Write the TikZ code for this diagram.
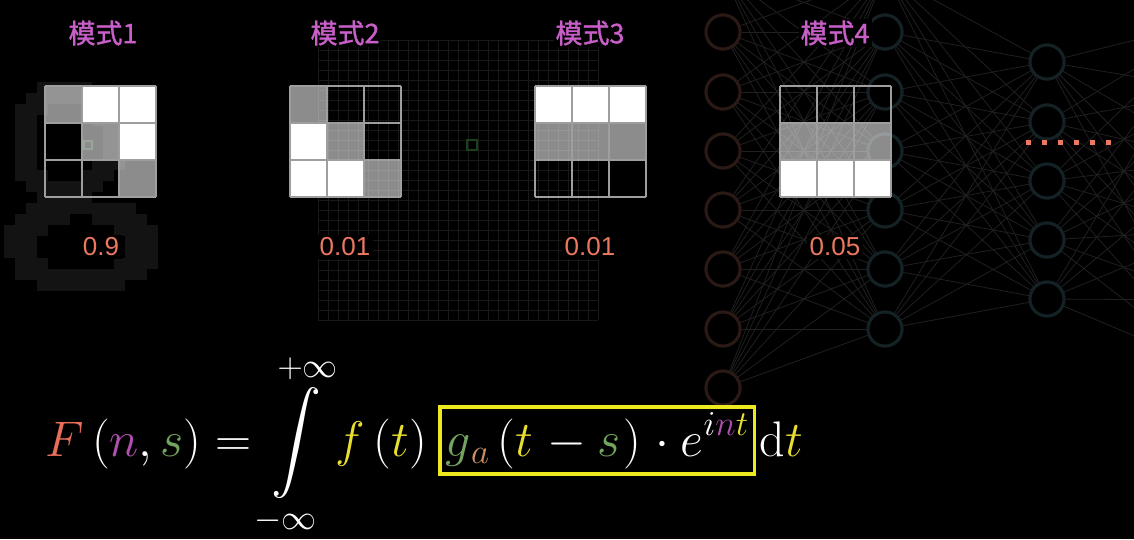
\RequirePackage{fix-cm}
\documentclass[tikz,border=0pt]{standalone}
\DeclareFontShape{OMX}{cmex}{m}{n}{<->cmex10}{}
\usepackage{fontspec}
\newfontfamily\cjk[FakeBold=1.2]{Noto Sans CJK SC}
\newfontfamily\numfont{Liberation Sans}
\usetikzlibrary{calc}
\definecolor{labpink}{RGB}{200,95,200}
\definecolor{numorange}{RGB}{235,120,95}
\definecolor{cF}{RGB}{232,110,90}
\definecolor{cn}{RGB}{175,80,175}
\definecolor{cs}{RGB}{115,165,95}
\definecolor{cy}{RGB}{232,222,50}
\definecolor{ca}{RGB}{205,145,100}
\definecolor{boxy}{RGB}{238,232,30}
\definecolor{netline}{RGB}{32,32,32}
\definecolor{nodebrown}{RGB}{42,25,20}
\definecolor{nodeteal}{RGB}{20,34,37}
\definecolor{faint}{RGB}{24,24,24}
\definecolor{eightgray}{RGB}{19,19,19}
\definecolor{dgreen}{RGB}{28,64,28}
\tikzset{
  lab/.style={text=labpink, font=\cjk\fontsize{27}{30}\selectfont, fill=black, inner sep=2pt},
  num/.style={text=numorange, font=\numfont\fontsize{26}{30}\selectfont, fill=black, inner sep=3pt},
  neuronA/.style={circle, draw=nodebrown, line width=3pt, fill=black, minimum size=34pt, inner sep=0},
  neuronB/.style={circle, draw=nodeteal, line width=3pt, fill=black, minimum size=34pt, inner sep=0},
  netedge/.style={draw=netline, line width=0.8pt},
  gridline/.style={draw=white!62!black, line width=1.6pt},
  wcell/.style={fill=white},
  gcell/.style={fill=white, fill opacity=0.55},
  bcell/.style={},
  faintgrid/.style={draw=faint, line width=0.8pt},
  formula/.style={text=white, font=\fontsize{50}{60}\selectfont},
}
\newcommand\patgrid[3]{%
  \foreach \c/\r/\v in {#3} {
    \path[\v] (#1+37*\c, #2+37*\r) rectangle ++(37,37);
  }
  \foreach \k in {0,1,2,3} {
    \draw[gridline] (#1+37*\k, #2) -- (#1+37*\k, #2+111);
    \draw[gridline] (#1, #2+37*\k) -- (#1+111, #2+37*\k);
  }
}
\begin{document}
\begin{tikzpicture}[x=1pt,y=-1pt]
\fill[black] (0,0) rectangle (1134,539);
\useasboundingbox (0,0) rectangle (1134,539);
\clip (0,0) rectangle (1134,539);

% faint background pixel digit "8"
\foreach \i in {0,...,13} {
  \foreach \j in {0,...,19} {
    \pgfmathsetmacro\px{4+11*\i}
    \pgfmathsetmacro\py{82+11*\j}
    \pgfmathtruncatemacro\on{ (abs(sqrt(((\px+5.5-82)/60)^2+((\py+5.5-245)/37)^2)-1)<0.3) || (abs(sqrt(((\px+5.5-68)/46)^2+((\py+5.5-142)/50)^2)-1)<0.25) ? 1 : 0}
    \ifnum\on=1 \fill[eightgray] (\px,\py) rectangle ++(11,11); \fi
  }
}
% faint pixel grid
\foreach \i in {0,...,28} {
  \draw[faintgrid] (318+10*\i,40) -- (318+10*\i,320);
  \draw[faintgrid] (318,40+10*\i) -- (598,40+10*\i);
}
\draw[dgreen, line width=2pt] (467,140) rectangle (477,150);
\draw[dgreen, line width=1.5pt] (84,141) rectangle (92,149);

% neural network
\foreach \n/\y in {0/-27,1/32,2/92,3/151,4/210,5/269,6/329,7/388} \node[neuronA] (a\n) at (723,\y) {};
\foreach \n/\y in {0/-27,1/32,2/92,3/151,4/210,5/269,6/329} \node[neuronB] (b\n) at (885,\y) {};
\foreach \n/\y in {1/62,2/122,3/181,4/240,5/299} \node[neuronB] (c\n) at (1047,\y) {};
\foreach \n/\y in {1/20,2/90,3/160,4/230,5/300,6/370} \coordinate (d\n) at (1215,\y);
\foreach \i in {0,...,7} \foreach \j in {0,...,6} \path[netedge] (a\i) -- (b\j);
\foreach \i in {0,...,6} \foreach \j in {1,...,5} \path[netedge] (b\i) -- (c\j);
\foreach \i in {1,...,5} \foreach \j in {1,...,6} \path[netedge] (c\i) -- (d\j);
\foreach \n in {0,...,7} \node[neuronA] at (a\n) {};
\foreach \n in {0,...,6} \node[neuronB] at (b\n) {};
\foreach \n in {1,...,5} \node[neuronB] at (c\n) {};
\draw[numorange, line width=5pt, dash pattern=on 5pt off 11pt] (1025.5,142) -- (1115,142);

% pattern grids
\patgrid{45}{86}{0/0/gcell,1/0/wcell,2/0/wcell,0/1/bcell,1/1/gcell,2/1/wcell,0/2/bcell,1/2/bcell,2/2/gcell}
\patgrid{290}{86}{0/0/gcell,1/0/bcell,2/0/bcell,0/1/wcell,1/1/gcell,2/1/bcell,0/2/wcell,1/2/wcell,2/2/gcell}
\patgrid{535}{86}{0/0/wcell,1/0/wcell,2/0/wcell,0/1/gcell,1/1/gcell,2/1/gcell,0/2/bcell,1/2/bcell,2/2/bcell}
\patgrid{780}{86}{0/0/bcell,1/0/bcell,2/0/bcell,0/1/gcell,1/1/gcell,2/1/gcell,0/2/wcell,1/2/wcell,2/2/wcell}

% labels
\node[lab] (m1) at (103,33) {模式1};
\node[lab] (m2) at (345,33) {模式2};
\node[lab] (m3) at (590,33) {模式3};
\node[lab] (m4) at (835,33) {模式4};
\node[num] (v1) at (101,247) {0.9};
\node[num] (v2) at (345,247) {0.01};
\node[num] (v3) at (590,247) {0.01};
\node[num] (v4) at (835,247) {0.05};

% formula
\node[formula, anchor=base west, inner sep=0pt] (lhs) at (45,456)
  {$\displaystyle \textcolor{cF}{F}\left(\textcolor{cn}{n},\textcolor{cs}{s}\right)=\int\limits_{-\infty}^{+\infty}\textcolor{cy}{f}\left(\textcolor{cy}{t}\right)$};
\node[formula, anchor=base west, draw=boxy, line width=3.5pt, inner xsep=6pt, inner ysep=0pt, text height=49pt, text depth=18pt] (box) at ($(lhs.base east)+(11,0)$)
  {$\displaystyle \textcolor{cs}{g}_{\textcolor{ca}{a}}\left(\textcolor{cy}{t}\mkern1mu-\textcolor{cs}{s}\mkern1mu\right)\mkern1.5mu\cdot e^{i\textcolor{cn}{n}\textcolor{cy}{t}}$};
\node[formula, anchor=base west, inner sep=0pt] (dt) at ($(box.base east)+(3,0)$)
  {$\mathrm{d}\textcolor{cy}{t}$};
\end{tikzpicture}
\end{document}
